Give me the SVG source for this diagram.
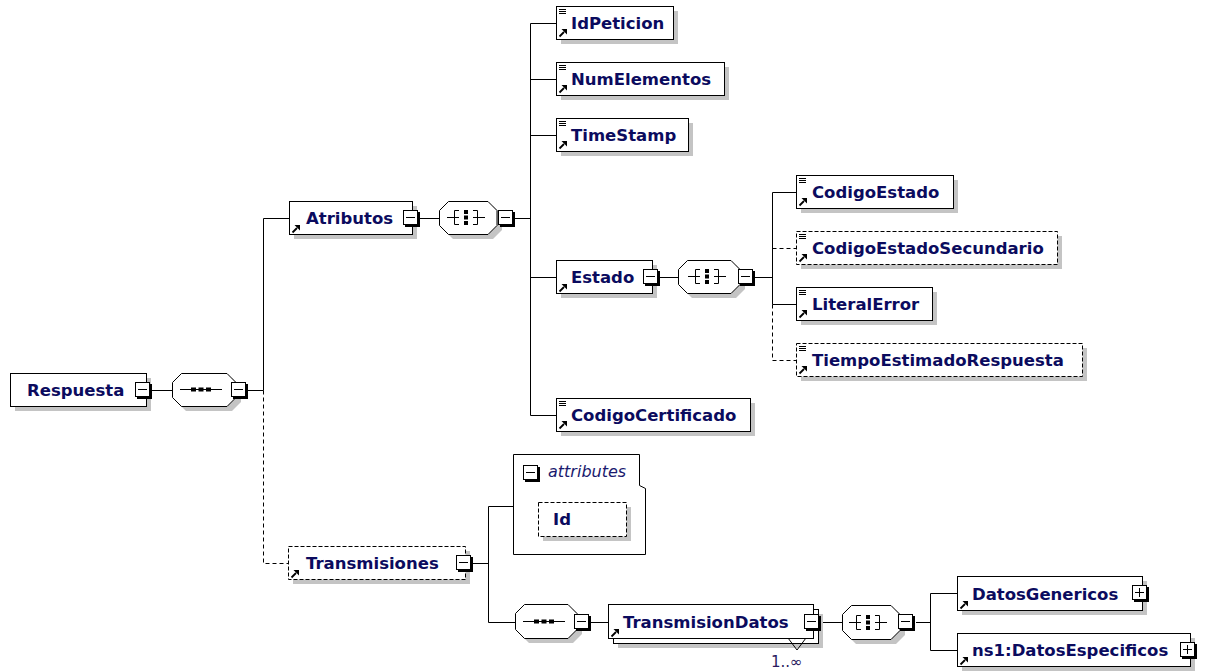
<svg xmlns="http://www.w3.org/2000/svg" xmlns:xlink="http://www.w3.org/1999/xlink" width="1205" height="672" viewBox="0 0 1205 672">
<style>
.sh{fill:#c4c4c4;stroke:none}
.box{fill:#fff;stroke:#000;stroke-width:1}
.opt{fill:#fff;stroke:#000;stroke-width:1;stroke-dasharray:4,2}
.c{stroke:#000;stroke-width:1;fill:none}
.cd{stroke:#000;stroke-width:1;fill:none;stroke-dasharray:4,3}
.t{font-family:"DejaVu Sans",Verdana,sans-serif;font-weight:bold;font-size:16.5px;fill:#0b0b5e}
.it{font-family:"DejaVu Sans",Verdana,sans-serif;font-style:italic;font-size:16px;fill:#1a1a6e}
.card{font-family:"DejaVu Sans",Verdana,sans-serif;font-size:15px;fill:#2a1a5e}
</style>
<defs>
<g id="minus"><rect x="2" y="2" width="15" height="15" fill="#000"/><rect x="0.5" y="0.5" width="14" height="14" fill="#fff" stroke="#000"/><path d="M3,7.5 H12" stroke="#000"/></g>
<g id="plus"><rect x="2" y="2" width="15" height="15" fill="#000"/><rect x="0.5" y="0.5" width="14" height="14" fill="#fff" stroke="#000"/><path d="M3,7.5 H12 M7.5,3 V12" stroke="#000"/></g>
<g id="ref"><path d="M0.5,7.5 L5,3" stroke="#000" stroke-width="1.8"/><polygon points="2.5,0 8,0 8,5.5" fill="#000"/></g>
<g id="simple"><path d="M0,0.5 H7 M0,2.5 H7 M0,4.5 H7" stroke="#000" stroke-width="1"/></g>
<g id="seqIcon"><path d="M-21,0.5 H21" stroke="#000"/><rect x="-10" y="-1.5" width="5" height="4" fill="#000"/><rect x="-2.5" y="-1.5" width="5" height="4" fill="#000"/><rect x="5" y="-1.5" width="5" height="4" fill="#000"/></g>
<g id="allIcon"><path d="M-19,0.5 H-11.5 M-7,-6.5 H-11.5 V7.5 H-7 M-11.5,0.5 H-7 M19,0.5 H11.5 M7,-6.5 H11.5 V7.5 H7 M11.5,0.5 H7" stroke="#000" fill="none"/><rect x="-2" y="-7" width="4" height="4" fill="#000"/><rect x="-2" y="-1.5" width="4" height="4" fill="#000"/><rect x="-2" y="4" width="4" height="4" fill="#000"/></g>
</defs>
<rect width="1205" height="672" fill="#fff"/>
<g id="connectors">
<path class="c" d="M152,390.5 H172 M248,390.5 H263.5 M263.5,390.5 V218.5 H289"/>
<path class="cd" d="M263.5,390.5 V563.5 H288"/>
<path class="c" d="M419,218.5 H439 M515,218.5 H530.5 M530.5,23.5 V415.5 M530.5,23.5 H556 M530.5,79.5 H556 M530.5,135.5 H556 M530.5,277.5 H556 M530.5,415.5 H556"/>
<path class="c" d="M660,277.5 H678 M755,277.5 H772.5 M772.5,192.5 V304.5 M772.5,192.5 H796 M772.5,304.5 H796"/>
<path class="cd" d="M772.5,248.5 H796 M772.5,304.5 V360.5 H796"/>
<path class="c" d="M473,563.5 H488.5 M488.5,506.5 V622.5 M488.5,506.5 H513 M488.5,622.5 H515 M591,622.5 H608 M822,622.5 H842 M916,622.5 H930.5 M930.5,593.5 V650.5 M930.5,593.5 H957 M930.5,650.5 H957"/>
</g>
<g id="n-respuesta">
<rect class="sh" x="15" y="378" width="136" height="33"/>
<rect class="box" x="10.5" y="373.5" width="136" height="33"/>
<text class="t" x="27" y="396">Respuesta</text>
<use href="#minus" x="135" y="382"/>
</g>
<g id="c-seq1">
<path class="sh" d="M186,378 H232 L241,387 V402 L232,411 H186 L177,402 V387 Z"/>
<path class="box" d="M181.5,373.5 H227 L236,382.5 V397.5 L227,406.5 H181.5 L172.5,397.5 V382.5 Z"/>
<use href="#seqIcon" x="201" y="389"/>
<use href="#minus" x="231" y="382"/>
</g>
<g id="n-atributos">
<rect class="sh" x="294" y="206" width="123" height="33"/>
<rect class="box" x="289.5" y="201.5" width="123" height="33"/>
<use href="#ref" x="292" y="225"/>
<text class="t" x="306" y="224">Atributos</text>
<use href="#minus" x="403" y="210"/>
</g>
<g id="c-all1">
<path class="sh" d="M453,206 H493 L502,215 V230 L493,239 H453 L444,230 V215 Z"/>
<path class="box" d="M448.5,201.5 H488 L497,210.5 V225.5 L488,234.5 H448.5 L439.5,225.5 V210.5 Z"/>
<use href="#allIcon" x="466" y="217"/>
<use href="#minus" x="498" y="210"/>
</g>
<g id="n-idpeticion">
<rect class="sh" x="561" y="11" width="117" height="33"/>
<rect class="box" x="556.5" y="6.5" width="117" height="33"/>
<use href="#simple" x="559" y="9"/>
<use href="#ref" x="559" y="29"/>
<text class="t" x="571" y="29">IdPeticion</text>
</g>
<g id="n-numelementos">
<rect class="sh" x="561" y="67" width="168" height="33"/>
<rect class="box" x="556.5" y="62.5" width="168" height="33"/>
<use href="#simple" x="559" y="65"/>
<use href="#ref" x="559" y="85"/>
<text class="t" x="571" y="85">NumElementos</text>
</g>
<g id="n-timestamp">
<rect class="sh" x="561" y="123" width="132" height="33"/>
<rect class="box" x="556.5" y="118.5" width="132" height="33"/>
<use href="#simple" x="559" y="121"/>
<use href="#ref" x="559" y="141"/>
<text class="t" x="571" y="141">TimeStamp</text>
</g>
<g id="n-estado">
<rect class="sh" x="561" y="265" width="96" height="33"/>
<rect class="box" x="556.5" y="260.5" width="96" height="33"/>
<use href="#ref" x="559" y="284"/>
<text class="t" x="571" y="283">Estado</text>
<use href="#minus" x="643" y="269"/>
</g>
<g id="c-all2">
<path class="sh" d="M692,265 H736 L745,274 V289 L736,298 H692 L683,289 V274 Z"/>
<path class="box" d="M687.5,260.5 H731 L740,269.5 V284.5 L731,293.5 H687.5 L678.5,284.5 V269.5 Z"/>
<use href="#allIcon" x="707" y="276"/>
<use href="#minus" x="738" y="269"/>
</g>
<g id="n-codigoestado">
<rect class="sh" x="801" y="180" width="157" height="33"/>
<rect class="box" x="796.5" y="175.5" width="157" height="33"/>
<use href="#simple" x="799" y="178"/>
<use href="#ref" x="799" y="198"/>
<text class="t" x="812" y="198">CodigoEstado</text>
</g>
<g id="n-codigoestadosecundario">
<rect class="sh" x="801" y="236" width="261" height="33"/>
<rect class="opt" x="796.5" y="231.5" width="261" height="33"/>
<use href="#simple" x="799" y="234"/>
<use href="#ref" x="799" y="254"/>
<text class="t" x="812" y="254">CodigoEstadoSecundario</text>
</g>
<g id="n-literalerror">
<rect class="sh" x="801" y="292" width="136" height="33"/>
<rect class="box" x="796.5" y="287.5" width="136" height="33"/>
<use href="#simple" x="799" y="290"/>
<use href="#ref" x="799" y="310"/>
<text class="t" x="812" y="310">LiteralError</text>
</g>
<g id="n-tiempoestimadorespuesta">
<rect class="sh" x="801" y="348" width="286" height="33"/>
<rect class="opt" x="796.5" y="343.5" width="286" height="33"/>
<use href="#simple" x="799" y="346"/>
<use href="#ref" x="799" y="366"/>
<text class="t" x="812" y="366">TiempoEstimadoRespuesta</text>
</g>
<g id="n-codigocertificado">
<rect class="sh" x="561" y="403" width="194" height="33"/>
<rect class="box" x="556.5" y="398.5" width="194" height="33"/>
<use href="#simple" x="559" y="401"/>
<use href="#ref" x="559" y="421"/>
<text class="t" x="571" y="421">CodigoCertificado</text>
</g>
<g id="n-transmisiones">
<rect class="sh" x="293" y="551" width="177" height="33"/>
<rect class="opt" x="288.5" y="546.5" width="177" height="33"/>
<use href="#ref" x="291" y="570"/>
<text class="t" x="306" y="569">Transmisiones</text>
<use href="#minus" x="456" y="555"/>
</g>
<g id="n-attributes">
<path class="box" d="M513.5,454.5 H639.5 V485.5 L645.5,488.5 V554.5 H513.5 Z"/>
<use href="#minus" x="523" y="465"/>
<text class="it" x="548" y="477">attributes</text>
<rect class="sh" x="543" y="507" width="88" height="34"/>
<rect class="opt" x="538.5" y="502.5" width="88" height="34"/>
<text class="t" x="553" y="525">Id</text>
</g>
<g id="c-seq2">
<path class="sh" d="M529,609 H573 L582,618 V634 L573,643 H529 L520,634 V618 Z"/>
<path class="box" d="M524.5,604.5 H568 L577,613.5 V629.5 L568,638.5 H524.5 L515.5,629.5 V613.5 Z"/>
<use href="#seqIcon" x="544" y="621"/>
<use href="#minus" x="574" y="614"/>
</g>
<g id="n-transmisiondatos">
<rect class="sh" x="618" y="614" width="205" height="34"/>
<rect class="box" x="613.5" y="609.5" width="205" height="34"/>
<rect class="box" x="608.5" y="604.5" width="205" height="34"/>
<path class="c" d="M788,638 L797,650 L806,638"/>
<use href="#ref" x="611" y="629"/>
<text class="t" x="623" y="628">TransmisionDatos</text>
<use href="#minus" x="804" y="614"/>
<text class="card" x="771" y="667">1..∞</text>
</g>
<g id="c-all3">
<path class="sh" d="M856,610 H896 L905,619 V635 L896,644 H856 L847,635 V619 Z"/>
<path class="box" d="M851.5,605.5 H891 L900,614.5 V630.5 L891,639.5 H851.5 L842.5,630.5 V614.5 Z"/>
<use href="#allIcon" x="868" y="622"/>
<use href="#minus" x="898" y="614"/>
</g>
<g id="n-datosgenericos">
<rect class="sh" x="962" y="581" width="185" height="34"/>
<rect class="box" x="957.5" y="576.5" width="185" height="34"/>
<use href="#ref" x="960" y="601"/>
<text class="t" x="972" y="600">DatosGenericos</text>
<use href="#plus" x="1132" y="585"/>
</g>
<g id="n-datosespecificos">
<rect class="sh" x="962" y="638" width="233" height="33"/>
<rect class="box" x="957.5" y="633.5" width="233" height="33"/>
<use href="#ref" x="960" y="657"/>
<text class="t" x="972" y="656">ns1:DatosEspecificos</text>
<use href="#plus" x="1180" y="642"/>
</g>
</svg>
